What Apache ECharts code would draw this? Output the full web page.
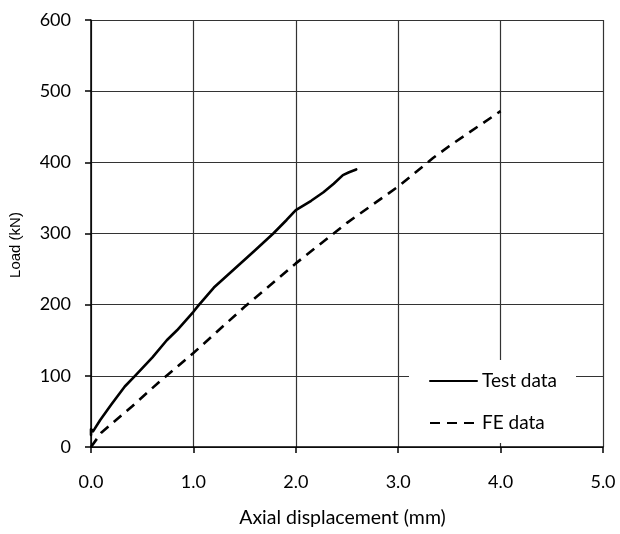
<!DOCTYPE html>
<html>
<head>
<meta charset="utf-8">
<script src="https://cdn.jsdelivr.net/npm/echarts@6/dist/echarts.min.js"></script>
<style>html,body{margin:0;padding:0;background:#fff;}#c{width:620px;height:534px;}</style>
</head>
<body>
<div id="c"></div>
<script>
// Test data (axial displacement mm, load kN)
var testX = [0.00, 0.00, 0.02, 0.09, 0.20, 0.33, 0.43, 0.60, 0.74, 0.84, 1.00, 1.05, 1.20, 1.40, 1.60, 1.78, 1.91, 2.00, 2.15, 2.27, 2.37, 2.46, 2.52, 2.59];
var testY = [17, 25, 22, 38, 60, 85, 100, 126, 150, 164, 190, 199, 224, 250, 276, 300, 319, 333, 346, 358, 370, 382, 386, 390];
// FE data
var feX = [0.00, 0.10, 0.40, 0.67, 1.00, 1.50, 2.00, 2.37, 2.50, 3.00, 3.34, 3.50, 4.00];
var feY = [0, 20, 57, 92, 132, 197, 258, 300, 315, 366, 406, 423, 472];
var xTicks = ['0.0', '1.0', '2.0', '3.0', '4.0', '5.0'];
var yTicks = [0, 100, 200, 300, 400, 500, 600];

function zip(a, b) { return a.map(function (v, i) { return [v, b[i]]; }); }

var chart = echarts.init(document.getElementById('c'), null, { renderer: 'canvas' });
var font = 'Lato';
chart.setOption({
  animation: false,
  backgroundColor: '#fff',
  grid: { left: 91, right: 17, top: 20, bottom: 87, containLabel: false },
  graphic: [
    { type: 'rect', z: 2, shape: { x: 409, y: 360, width: 167, height: 83 }, style: { fill: '#fff' } },
    { type: 'text', id: 'ytitle', z: 5, x: 15.5, y: 245, rotation: Math.PI / 2,
      style: { text: 'Load (kN)', fontFamily: 'Liberation Sans', fontSize: 15, fill: '#000',
        align: 'center', verticalAlign: 'middle' } }
  ],
  legend: {
    orient: 'vertical',
    left: 409,
    top: 360,
    z: 5,
    padding: [11.5, 19, 13, 20],
    itemWidth: 47,
    itemHeight: 14,
    itemGap: 23,
    itemStyle: { opacity: 0 },
    textStyle: { fontFamily: font, fontSize: 19, color: '#000' },
    data: ['Test data', 'FE data']
  },
  xAxis: {
    type: 'value', min: 0, max: 5, interval: 1,
    name: 'Axial displacement (mm)', nameLocation: 'middle', nameGap: 61,
    nameTextStyle: { fontFamily: font, fontSize: 19.5, color: '#000', padding: [0, 9, 0, 0] },
    axisLine: { show: true, lineStyle: { color: '#000', width: 1.5 } },
    axisTick: { show: true, inside: false, length: 6, lineStyle: { color: '#000', width: 1.5 } },
    axisLabel: { fontFamily: font, fontSize: 18, color: '#000', margin: 26,
      formatter: function (v) { return xTicks[Math.round(v)]; } },
    splitLine: { show: true, lineStyle: { color: '#333', width: 1.2 } }
  },
  yAxis: {
    type: 'value', min: 0, max: 600, interval: 100,
    axisLine: { show: true, lineStyle: { color: '#000', width: 1.5 } },
    axisTick: { show: true, inside: false, length: 6, lineStyle: { color: '#000', width: 1.5 } },
    axisLabel: { fontFamily: font, fontSize: 18, color: '#000', margin: 20,
      formatter: function (v) { return yTicks.indexOf(v) >= 0 ? String(v) : ''; } },
    splitLine: { show: true, lineStyle: { color: '#333', width: 1.2 } }
  },
  series: [
    {
      name: 'Test data', type: 'line', symbol: 'none', z: 3,
      data: zip(testX, testY),
      lineStyle: { color: '#000', width: 2.6, type: 'solid', cap: 'round', join: 'round' },
      itemStyle: { color: '#000' }
    },
    {
      name: 'FE data', type: 'line', symbol: 'none', z: 3,
      data: zip(feX, feY),
      lineStyle: { color: '#000', width: 2.6, type: [10, 7] },
      itemStyle: { color: '#000' }
    }
  ]
});
</script>
</body>
</html>
